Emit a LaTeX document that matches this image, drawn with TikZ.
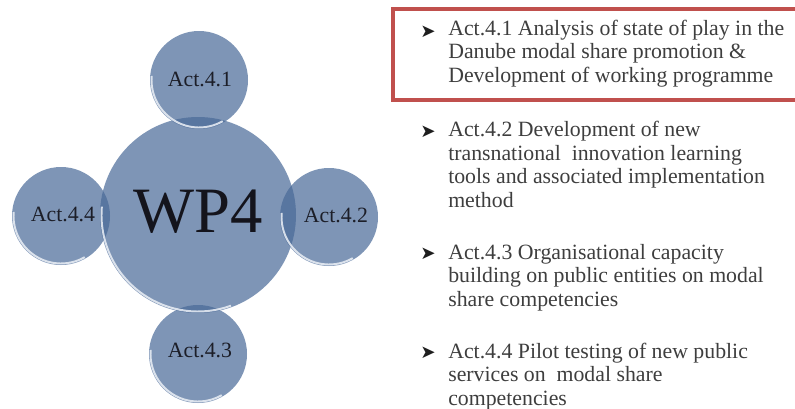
\documentclass[tikz,border=0pt]{standalone}
\usepackage{fontspec}
\setmainfont{Liberation Serif}
\newfontfamily\symfont{DejaVu Sans}
\usetikzlibrary{calc}

\definecolor{ballblue}{RGB}{126,149,182}
\definecolor{lensblue}{RGB}{88,118,160}
\definecolor{rimwhite}{RGB}{236,240,246}
\definecolor{boxred}{RGB}{192,80,77}
\definecolor{itemgray}{RGB}{62,62,62}

\tikzset{
  ball/.style={fill=ballblue},
  lens/.style={fill=lensblue},
  rim/.style={draw=rimwhite, line width=1.4pt, opacity=.85},
  actlabel/.style={inner sep=0pt, font=\fontsize{15.5}{17}\selectfont, text={rgb,255:red,28;green,30;blue,40}},
  item/.style={anchor=base west, inner sep=0pt, align=left, text=itemgray,
    font=\fontsize{15.5}{16.6}\selectfont},
  bullet/.style={anchor=base, inner sep=0pt, text={rgb,255:red,30;green,30;blue,30}, font=\symfont\fontsize{13}{14}\selectfont}
}

\begin{document}
\begin{tikzpicture}[x=0.025cm,y=0.025cm]
\useasboundingbox (0,0) rectangle (795,-408);

\pgfmathsetmacro{\rs}{49};
\pgfmathsetmacro{\rb}{98};

\coordinate (wp) at (198,-215);
\coordinate (c1) at (199,-80);
\coordinate (c2) at (329,-217);
\coordinate (c3) at (198,-354);
\coordinate (c4) at (61,-216);

% the four activities and the work package
\foreach \c in {c1,c2,c3,c4}
  \fill[ball] (\c) circle[radius=\rs];
\fill[ball] (wp) circle[radius=\rb];

% darker overlaps
\begin{scope}
\clip (wp) circle[radius=\rb];
\foreach \c in {c1,c2,c3,c4}
  \fill[lens] (\c) circle[radius=\rs];
\end{scope}

% glossy rims
\foreach \c in {c1,c2,c3,c4}
  \draw[rim] ([shift={(175:\rs-1.5)}]\c) arc [radius=\rs-1.5, start angle=175, end angle=300];
\draw[rim] ([shift={(175:\rb-1.5)}]wp) arc [radius=\rb-1.5, start angle=175, end angle=290];

\node[inner sep=0pt, font=\fontsize{46}{50}\selectfont, text={rgb,255:red,20;green,20;blue,28}] (wplabel) at (198,-212) {WP4};
\node[actlabel] (l1) at (200,-79) {Act.4.1};
\node[actlabel] (l2) at (336,-215) {Act.4.2};
\node[actlabel] (l3) at (200,-350) {Act.4.3};
\node[actlabel] (l4) at (63,-214) {Act.4.4};

% highlighted activity
\draw[boxred, line width=2.8pt] (393,-9) rectangle (805,-100);

% base anchor of the texts is their last line
\node[bullet] (b1) at (428,-37) {➤};
\node[item] (t1) at (448,-82) {Act.4.1 Analysis of state of play in the\\Danube modal share promotion \&\\Development of working programme};
\node[bullet] (b2) at (428,-137) {➤};
\node[item] (t2) at (448,-207) {Act.4.2 Development of new\\transnational\ \ innovation learning\\tools and associated implementation\\method};
\node[bullet] (b3) at (428,-259) {➤};
\node[item] (t3) at (448,-306) {Act.4.3 Organisational capacity\\building on public entities on modal\\share competencies};
\node[bullet] (b4) at (428,-358) {➤};
\node[item] (t4) at (448,-405) {Act.4.4 Pilot testing of new public\\services on\ \ modal share\\competencies};

\end{tikzpicture}
\end{document}
